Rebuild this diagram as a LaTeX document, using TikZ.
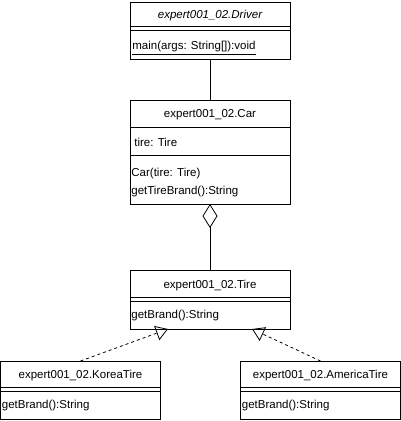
\documentclass[tikz,border=0pt]{standalone}
\usepackage{fontspec}
\setmainfont{Liberation Sans}
\usetikzlibrary{arrows.meta}
\begin{document}
\begin{tikzpicture}[x=1pt,y=-1pt, line width=0.8pt,
  classbox/.style={draw, anchor=north west, inner sep=0pt, outer sep=0pt, minimum width=160pt},
  ctitle/.style={font=\fontsize{11.5}{13}\selectfont, inner sep=0pt, anchor=center},
  member/.style={font=\fontsize{11.5}{13}\selectfont, inner sep=0pt, anchor=west},
  realize/.style={dash pattern=on 3pt off 3pt, -{Triangle[open,length=12pt,width=15pt]}},
  aggr/.style={{Diamond[open,length=24pt,width=15pt]}-}]
\useasboundingbox (0,0) rectangle (401,421);

% Driver
\node[classbox, minimum height=57pt] (driver) at (130,2) {};
\node[ctitle] (drivert) at (210,16) {\itshape expert001\_02.Driver};
\draw (130,26) -- (290,26);
\draw (130,30) -- (290,30);
\node[member] (driverm) at (132,48) {\underline{main(args: String[]):void}};

% Car
\node[classbox, minimum height=104pt] (car) at (130,100) {};
\node[ctitle] (cart) at (210,115) {expert001\_02.Car};
\draw (130,127) -- (290,127);
\node[member] (cara) at (134,142) {tire: Tire};
\draw (130,155) -- (290,155);
\node[member] (carm1) at (131,174) {Car(tire: Tire)};
\node[member] (carm2) at (131,192) {getTireBrand():String};

% Tire
\node[classbox, minimum height=59pt] (tire) at (130,270) {};
\node[ctitle] (tiret) at (210,286) {expert001\_02.Tire};
\draw (130,297) -- (290,297);
\draw (130,301) -- (290,301);
\node[member] (tirem) at (131,316) {getBrand():String};

% KoreaTire
\node[classbox, minimum height=58pt] (korea) at (0.5,361) {};
\node[ctitle] (koreat) at (80.5,376) {expert001\_02.KoreaTire};
\draw (0.5,387) -- (160.5,387);
\draw (0.5,391) -- (160.5,391);
\node[member] (koream) at (1.5,406) {getBrand():String};

% AmericaTire
\node[classbox, minimum height=58pt] (america) at (240.5,361) {};
\node[ctitle] (americat) at (320.5,376) {expert001\_02.AmericaTire};
\draw (240.5,387) -- (400.5,387);
\draw (240.5,391) -- (400.5,391);
\node[member] (americam) at (241.5,406) {getBrand():String};

% connectors
\draw (driver.south) -- (car.north);
\draw[aggr] (car.south) -- (tire.north);
\coordinate (kt) at (168,329);
\coordinate (at) at (252,329);
\draw[realize] (korea.north) -- (kt);
\draw[realize] (america.north) -- (at);
\end{tikzpicture}
\end{document}
